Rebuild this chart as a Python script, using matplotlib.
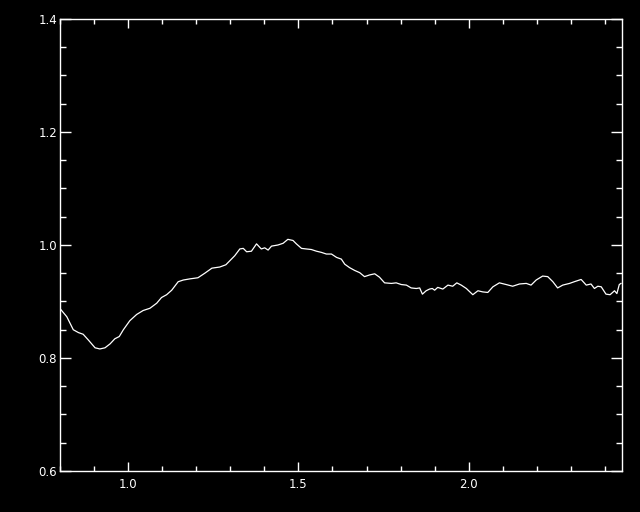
import matplotlib
matplotlib.use("Agg")
import matplotlib.pyplot as plt
from matplotlib.ticker import MultipleLocator, FormatStrFormatter

# curve values (x, y)
x_vals = [0.802, 0.820, 0.839, 0.854, 0.868, 0.883, 0.903, 0.917, 0.932, 0.947,
          0.961, 0.974, 0.986, 1.005, 1.025, 1.044, 1.064, 1.084, 1.098, 1.113,
          1.128, 1.147, 1.162, 1.181, 1.205, 1.225, 1.246, 1.269, 1.287, 1.313,
          1.328, 1.338, 1.348, 1.362, 1.377, 1.391, 1.401, 1.411, 1.421, 1.440,
          1.455, 1.469, 1.484, 1.494, 1.509, 1.523, 1.538, 1.553, 1.567, 1.582,
          1.597, 1.612, 1.626, 1.636, 1.650, 1.665, 1.680, 1.694, 1.709, 1.724,
          1.738, 1.753, 1.773, 1.787, 1.802, 1.817, 1.831, 1.846, 1.856, 1.864,
          1.875, 1.885, 1.893, 1.900, 1.909, 1.924, 1.939, 1.953, 1.965, 1.978,
          1.993, 2.012, 2.027, 2.041, 2.056, 2.071, 2.090, 2.110, 2.129, 2.149,
          2.169, 2.183, 2.198, 2.217, 2.232, 2.247, 2.261, 2.276, 2.296, 2.310,
          2.330, 2.345, 2.359, 2.369, 2.379, 2.389, 2.403, 2.415, 2.428, 2.435,
          2.442, 2.447]
y_vals = [0.886, 0.873, 0.850, 0.845, 0.842, 0.832, 0.818, 0.816, 0.818, 0.825,
          0.834, 0.838, 0.850, 0.866, 0.877, 0.884, 0.888, 0.897, 0.907, 0.912,
          0.920, 0.935, 0.938, 0.940, 0.942, 0.950, 0.959, 0.961, 0.965, 0.981,
          0.993, 0.994, 0.988, 0.989, 1.002, 0.993, 0.995, 0.991, 0.998, 1.000,
          1.003, 1.010, 1.008, 1.002, 0.994, 0.993, 0.992, 0.989, 0.987, 0.984,
          0.984, 0.978, 0.975, 0.966, 0.960, 0.955, 0.951, 0.944, 0.947, 0.949,
          0.943, 0.933, 0.932, 0.933, 0.930, 0.929, 0.924, 0.923, 0.924, 0.913,
          0.919, 0.922, 0.923, 0.920, 0.925, 0.922, 0.929, 0.927, 0.933, 0.929,
          0.923, 0.912, 0.919, 0.917, 0.916, 0.926, 0.933, 0.930, 0.927, 0.931,
          0.932, 0.929, 0.938, 0.945, 0.944, 0.935, 0.924, 0.929, 0.932, 0.935,
          0.939, 0.929, 0.931, 0.923, 0.927, 0.926, 0.913, 0.912, 0.919, 0.914,
          0.930, 0.932]

fig = plt.figure(figsize=(6.4, 5.12), dpi=100, facecolor="black")
ax = fig.add_axes([0.09375, 0.0801, 0.878125, 0.8828], facecolor="black")

ax.plot(x_vals, y_vals, color="white", linewidth=0.9)

ax.set_xlim(0.8, 2.45)
ax.set_ylim(0.6, 1.4)

ax.xaxis.set_major_locator(MultipleLocator(0.5))
ax.xaxis.set_minor_locator(MultipleLocator(0.1))
ax.yaxis.set_major_locator(MultipleLocator(0.2))
ax.yaxis.set_minor_locator(MultipleLocator(0.05))
ax.xaxis.set_major_formatter(FormatStrFormatter("%.1f"))
ax.yaxis.set_major_formatter(FormatStrFormatter("%.1f"))

for side in ax.spines.values():
    side.set_color("white")
    side.set_linewidth(1.0)

ax.tick_params(axis="both", which="both", direction="in", colors="white",
               top=True, right=True, width=1.0, labelsize=8.5)
ax.tick_params(axis="x", which="major", length=6.5, pad=5)
ax.tick_params(axis="x", which="minor", length=3.6)
ax.tick_params(axis="y", which="major", length=8, pad=2)
ax.tick_params(axis="y", which="minor", length=4.3)

fig.savefig("out.png", dpi=100, facecolor="black")
